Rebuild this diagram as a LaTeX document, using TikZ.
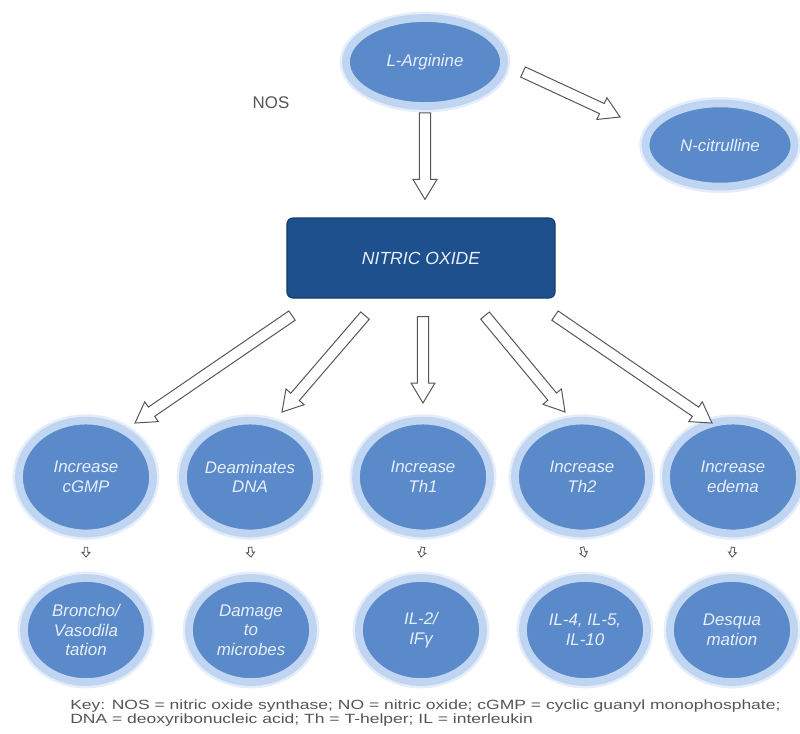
\documentclass[tikz,border=0pt]{standalone}
\usepackage{fontspec}
\setmainfont{Liberation Sans}
\usetikzlibrary{shapes.geometric,calc}

\definecolor{bubblefill}{RGB}{90,138,202}
\definecolor{ringblue}{RGB}{192,213,241}
\definecolor{glowblue}{RGB}{228,237,249}
\definecolor{boxblue}{RGB}{30,80,142}
\definecolor{boxedge}{RGB}{22,60,112}
\definecolor{arrowgray}{RGB}{85,85,85}
\definecolor{paletext}{RGB}{232,239,250}

\def\shaftw{0.14cm}
\def\headw{0.30cm}
\def\headl{0.50cm}

\tikzset{
  bubble/.style={ellipse, fill=bubblefill, draw=ringblue, line width=5.5pt,
    preaction={draw=glowblue, line width=9pt},
    inner sep=0pt, align=center, text=paletext,
    font=\fontsize{12}{14}\selectfont\itshape},
  topbubble/.style={bubble, minimum width=3.35cm, minimum height=2.82cm},
  lowbubble/.style={bubble, minimum width=3.1cm, minimum height=2.6cm},
  nobox/.style={rectangle, rounded corners=0.15cm, fill=boxblue, draw=boxedge,
    line width=0.8pt, minimum width=6.7cm, minimum height=2cm, text=paletext,
    font=\fontsize{12.5}{14}\selectfont\itshape},
  shaft width/.code={\def\shaftw{#1}},
  head width/.code={\def\headw{#1}},
  head length/.code={\def\headl{#1}},
  blockarrow/.style={draw=arrowgray, fill=white, line width=0.7pt,
    to path={
      ($(\tikztostart)!\shaftw!90:(\tikztotarget)$)
      -- ($($(\tikztotarget)!\headl!(\tikztostart)$)!\shaftw!90:(\tikztotarget)$)
      -- ($($(\tikztotarget)!\headl!(\tikztostart)$)!\headw!90:(\tikztotarget)$)
      -- (\tikztotarget)
      -- ($($(\tikztotarget)!\headl!(\tikztostart)$)!\headw!-90:(\tikztotarget)$)
      -- ($($(\tikztotarget)!\headl!(\tikztostart)$)!\shaftw!-90:(\tikztotarget)$)
      -- ($(\tikztostart)!\shaftw!-90:(\tikztotarget)$)
      -- cycle}},
  tinyarrow/.style={blockarrow, line width=0.6pt, shaft width=0.045cm,
    head width=0.1cm, head length=0.12cm}
}

\begin{document}
\begin{tikzpicture}[x=0.025cm,y=-0.025cm]
    \useasboundingbox (0,0) rectangle (800,733);

    % substrate and products
    \node[bubble, minimum width=3.95cm, minimum height=2.2cm] (arg) at (425,62) {L-Arginine};
    \node[bubble, minimum width=3.72cm, minimum height=2.08cm] (cit) at (720,145) {N-citrulline};
    \node[text=arrowgray, font=\fontsize{12}{14}\selectfont] (nos) at (271,103) {NOS};

    % central box
    \node[nobox] (no) at (421,258) {NITRIC OXIDE};

    % effects
    \foreach \x/\name/\txt in {86/c1/{Increase\\cGMP}, 250/c2/{Deaminates\\DNA},
        423/c3/{Increase\\Th1}, 582/c4/{Increase\\Th2}, 733/c5/{Increase\\edema}}
        \node[topbubble] (\name) at (\x,477) {\txt};

    % outcomes
    \foreach \x/\name/\txt in {86/r1/{Broncho/\\Vasodila\\tation}, 251/r2/{Damage\\to\\microbes},
        421/r3/{IL-2/\\IFγ}, 585/r4/{IL-4, IL-5,\\IL-10}, 732/r5/{Desqua\\mation}}
        \node[lowbubble] (\name) at (\x,630) {\txt};

    % arrows from L-Arginine
    \coordinate (a0) at ([shift={(0,3)}]arg.south);
    \coordinate (a1) at ([shift={(4,-18)}]no.north);
    \coordinate (b0) at ([shift={(98,10)}]arg.center);
    \coordinate (b1) at ([shift={(-100,-28)}]cit.center);
    \draw[blockarrow] (a0) to (a1);
    \draw[blockarrow] (b0) to (b1);

    % arrows from nitric oxide
    \coordinate (s1) at ([shift={(-129,17)}]no.south);
    \coordinate (s2) at ([shift={(-56,17)}]no.south);
    \coordinate (s3) at ([shift={(2,18)}]no.south);
    \coordinate (s4) at ([shift={(64,17)}]no.south);
    \coordinate (s5) at ([shift={(134,17)}]no.south);
    \coordinate (t1) at ([shift={(49,-54)}]c1.center);
    \coordinate (t2) at ([shift={(32,-65)}]c2.center);
    \coordinate (t3) at ([shift={(0,-74)}]c3.center);
    \coordinate (t4) at ([shift={(-17,-65)}]c4.center);
    \coordinate (t5) at ([shift={(-21,-54)}]c5.center);
    \foreach \i in {1,...,5}
        \draw[blockarrow] (s\i) to (t\i);

    % small arrows between rows
    \foreach \i in {1,...,5}{
        \coordinate (u\i) at ([shift={(0,10)}]c\i.south);
        \coordinate (v\i) at ([shift={(0,-17)}]r\i.north);
        \draw[tinyarrow] (u\i) to (v\i);
    }

    % key
    \node[anchor=north west, align=left, text=arrowgray, inner sep=0pt,
        font=\fontsize{9.5}{9.6}\selectfont] (key) at (70,700)
        {\scalebox{1.31}[1]{Key: NOS = nitric oxide synthase; NO = nitric oxide; cGMP = cyclic guanyl monophosphate;}\\
         \scalebox{1.31}[1]{DNA = deoxyribonucleic acid; Th = T-helper; IL = interleukin}};

\end{tikzpicture}
\end{document}
